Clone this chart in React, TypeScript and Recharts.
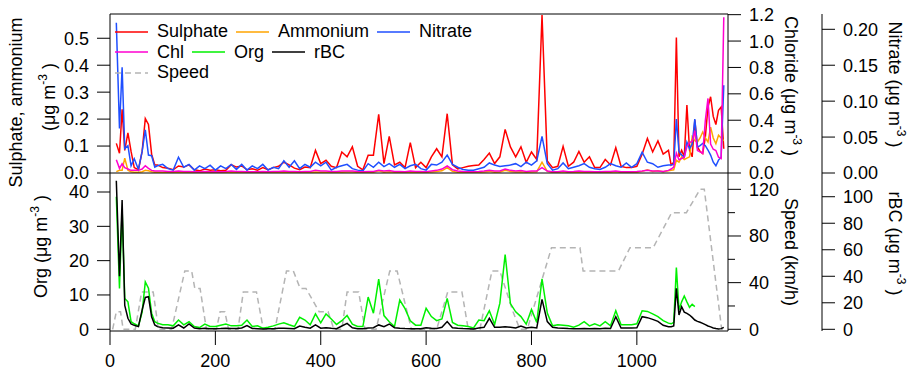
import React from 'react';
import { LineChart, Line, XAxis, YAxis } from 'recharts';

// sample positions (shared by the aerosol series of both panels)
const timeX = [
  12, 18, 23, 28, 34, 40, 46, 54, 61, 67, 73, 79, 85,
  90, 100, 110, 120, 130, 140, 150, 160, 170, 180, 190, 200, 210, 220, 230, 240, 250, 260, 270, 280, 290, 300,
  310, 320, 330, 340, 350, 360, 370, 380,
  390, 400, 410, 420, 430, 440, 450, 460, 470, 480, 490, 500, 510, 520, 530, 540, 550, 560, 570, 580, 590, 600,
  610, 620, 630, 640, 650, 660, 670, 680, 690, 700, 710, 720, 730, 740, 750, 760, 770, 780, 790, 800, 810, 820,
  830, 840, 850, 860, 870, 880, 890, 900, 910, 920, 930, 940, 950, 960, 970, 980, 990, 1000, 1010, 1020, 1030,
  1040, 1050, 1060,
  1065, 1070, 1075, 1080, 1085, 1090, 1095, 1100, 1105, 1110, 1115, 1120, 1125, 1130, 1135, 1140, 1145, 1150,
  1155, 1160, 1165,
];

const sulphate = [
  0.11, 0.073, 0.236, 0.084, 0.149, 0.08, 0.02, 0.012, 0.08, 0.202, 0.18, 0.07, 0.03,
  0.03, 0.02, 0.018, 0.012, 0.026, 0.022, 0.03, 0.012, 0.008, 0.015, 0.01, 0.012, 0.008, 0.01, 0.031, 0.022, 0.026,
  0.012, 0.016, 0.01, 0.02, 0.012, 0.02, 0.025, 0.04, 0.03, 0.018, 0.012, 0.022, 0.02,
  0.084, 0.035, 0.047, 0.025, 0.02, 0.078, 0.06, 0.097, 0.025, 0.012, 0.066, 0.066, 0.218, 0.035, 0.136, 0.03,
  0.04, 0.02, 0.113, 0.02, 0.04, 0.02, 0.06, 0.09, 0.06, 0.22, 0.03, 0.015, 0.02, 0.025, 0.028, 0.03, 0.05, 0.074,
  0.035, 0.06, 0.162, 0.097, 0.06, 0.097, 0.04, 0.078, 0.05, 0.586, 0.045, 0.02, 0.025, 0.099, 0.025, 0.04, 0.08,
  0.04, 0.06, 0.02, 0.02, 0.05, 0.03, 0.094, 0.025, 0.02, 0.02, 0.025, 0.07, 0.128, 0.078, 0.119, 0.07, 0.084,
  0.03, 0.04, 0.503, 0.06, 0.084, 0.06, 0.252, 0.084, 0.06, 0.196, 0.097, 0.08, 0.072, 0.134, 0.245, 0.283, 0.21,
  0.18, 0.233, 0.245, 0.09,
];

const ammonium = [
  0.005, 0.01, 0.01, 0.055, 0.01, 0.005, 0.003, 0.003, 0.005, 0.01, 0.008, 0.005, 0.003,
  0.003, 0.002, 0.002, 0.002, 0.003, 0.002, 0.002, 0.002, 0.001, 0.002, 0.001, 0.001, 0.001, 0.002, 0.002, 0.002,
  0.002, 0.001, 0.001, 0.001, 0.002, 0.001, 0.002, 0.002, 0.003, 0.002, 0.002, 0.001, 0.002, 0.002,
  0.004, 0.003, 0.003, 0.002, 0.002, 0.003, 0.004, 0.004, 0.002, 0.002, 0.003, 0.003, 0.008, 0.003, 0.005, 0.003,
  0.003, 0.002, 0.004, 0.002, 0.003, 0.002, 0.004, 0.006, 0.008, 0.02, 0.006, 0.003, 0.002, 0.002, 0.002, 0.003,
  0.004, 0.006, 0.003, 0.004, 0.01, 0.006, 0.004, 0.005, 0.003, 0.004, 0.005, 0.04, 0.006, 0.002, 0.002, 0.005,
  0.002, 0.003, 0.004, 0.003, 0.004, 0.002, 0.002, 0.003, 0.003, 0.005, 0.002, 0.002, 0.002, 0.003, 0.006, 0.012,
  0.006, 0.008, 0.005, 0.008,
  0.01, 0.012, 0.047, 0.04, 0.06, 0.05, 0.055, 0.06, 0.134, 0.12, 0.115, 0.13, 0.152, 0.13, 0.115, 0.17, 0.13,
  0.109, 0.14, 0.13, 0.12,
];

const nitrate = [
  0.209, 0.062, 0.147, 0.034, 0.038, 0.01, 0.02, 0.005, 0.03, 0.06, 0.025, 0.024, 0.008,
  0.01, 0.012, 0.006, 0.004, 0.022, 0.008, 0.012, 0.004, 0.01, 0.006, 0.011, 0.004, 0.01, 0.006, 0.012, 0.005,
  0.012, 0.004, 0.01, 0.006, 0.012, 0.004, 0.008, 0.006, 0.017, 0.008, 0.017, 0.006, 0.012, 0.008,
  0.015, 0.01, 0.015, 0.004, 0.008, 0.01, 0.012, 0.006, 0.004, 0.003, 0.013, 0.008, 0.015, 0.009, 0.013, 0.008,
  0.012, 0.006, 0.01, 0.012, 0.006, 0.004, 0.012, 0.011, 0.015, 0.025, 0.012, 0.008, 0.005, 0.004, 0.004, 0.006,
  0.008, 0.014, 0.011, 0.009, 0.01, 0.011, 0.013, 0.009, 0.015, 0.011, 0.017, 0.051, 0.013, 0.004, 0.006, 0.014,
  0.006, 0.008, 0.01, 0.013, 0.008, 0.006, 0.005, 0.008, 0.013, 0.01, 0.008, 0.014, 0.008, 0.013, 0.029, 0.015,
  0.013, 0.008, 0.01, 0.011,
  0.011, 0.012, 0.075, 0.03, 0.025, 0.022, 0.043, 0.034, 0.04, 0.075, 0.036, 0.038, 0.041, 0.038, 0.032, 0.025,
  0.015, 0.01, 0.018, 0.022, 0.122,
];

const chloride = [
  0.1, 0.035, 0.07, 0.04, 0.03, 0.02, 0.02, 0.02, 0.03, 0.055, 0.035, 0.02, 0.015,
  0.015, 0.015, 0.012, 0.012, 0.015, 0.012, 0.012, 0.01, 0.01, 0.012, 0.01, 0.01, 0.01, 0.012, 0.015, 0.012,
  0.012, 0.01, 0.01, 0.01, 0.012, 0.01, 0.012, 0.012, 0.015, 0.012, 0.012, 0.01, 0.012, 0.012,
  0.02, 0.015, 0.015, 0.012, 0.012, 0.015, 0.015, 0.015, 0.012, 0.01, 0.012, 0.012, 0.02, 0.015, 0.018, 0.012,
  0.012, 0.01, 0.015, 0.012, 0.012, 0.01, 0.015, 0.02, 0.03, 0.053, 0.025, 0.015, 0.012, 0.01, 0.01, 0.012,
  0.015, 0.02, 0.015, 0.015, 0.03, 0.02, 0.015, 0.018, 0.012, 0.015, 0.015, 0.04, 0.015, 0.01, 0.01, 0.015,
  0.01, 0.012, 0.015, 0.012, 0.012, 0.01, 0.01, 0.012, 0.012, 0.015, 0.01, 0.01, 0.01, 0.012, 0.015, 0.02,
  0.015, 0.015, 0.012, 0.02,
  0.03, 0.045, 0.15, 0.1, 0.11, 0.12, 0.2, 0.23, 0.24, 0.32, 0.17, 0.16, 0.15, 0.4, 0.565, 0.22, 0.18, 0.17,
  0.12, 0.11, 1.18,
];

// organics stop at ~1110
const org = [
  38.6, 11.9, 35, 9, 8, 2.2, 1.6, 1.0, 5, 13.8, 12, 4.7, 2.2,
  1.8, 1.3, 1.3, 1.0, 2.7, 1.3, 2.2, 0.8, 0.5, 1.5, 0.8, 0.8, 1.2, 1.5, 1.0, 1.0, 1.2, 2.7, 0.8, 1.0, 0.3, 0.6,
  1.0, 1.5, 1.9, 1.3, 0.8, 3.5, 2.7, 1.3,
  4.5, 1.9, 4.5, 3.0, 1.4, 2.5, 4.0, 1.5, 0.8, 0.8, 9.4, 4.7, 14.6, 4.0, 2.2, 0.8, 8.5, 6.0, 2.5, 1.2, 1.2, 6.1,
  3.7, 2.5, 3.0, 9.0, 2.0, 1.2, 1.0, 0.8, 0.4, 2.7, 2.5, 5.4, 1.4, 7.6, 21.8, 7.5, 5.1, 3.7, 1.5, 5.8, 2.0, 14.7,
  4.7, 1.0, 1.3, 1.2, 1.0, 0.6, 1.2, 2.2, 1.0, 1.6, 1.0, 2.2, 1.0, 5.4, 1.3, 1.3, 1.3, 1.6, 5.4, 5.2, 4.5, 3.7,
  2.5, 1.8,
  1.6, 2.0, 18, 5.6, 8, 9.7, 8, 6.4, 7.3, 6.6,
];

const rbc = [
  112, 40, 97.5, 18, 8.3, 4, 3, 2, 14.6, 24, 24.6, 9.5, 3.3,
  2, 1.2, 1, 0.8, 3.3, 1, 4, 1, 0.5, 0.8, 0.5, 0.5, 0.6, 0.8, 0.6, 0.6, 1.0, 2.8, 0.6, 0.5, 0.3, 0.4, 0.5, 0.8,
  0.8, 0.6, 0.4, 2.5, 1.5, 0.8,
  3.3, 0.8, 1.2, 0.8, 0.5, 2.5, 4.5, 1.2, 0.5, 0.5, 1.0, 1.2, 3.3, 2.0, 4.0, 1.2, 0.8, 0.6, 0.5, 0.4, 0.4, 1.2,
  0.8, 0.6, 1.5, 5.8, 1.2, 0.8, 0.6, 0.5, 0.3, 1.0, 1.5, 8.3, 1.5, 1.5, 2.0, 1.5, 1.0, 2.5, 1.0, 1.5, 1.0, 22.6,
  5.8, 1.5, 1.0, 0.8, 0.6, 0.5, 0.5, 0.6, 0.5, 0.6, 0.5, 0.8, 0.6, 9.5, 1.0, 1.0, 1.0, 1.2, 9.5, 8.8, 7.5, 6.0,
  3.0, 2.0,
  2.0, 2.5, 31, 10.8, 17, 13, 12, 10.8, 9, 7, 6, 5.3, 4.5, 3.5, 2.5, 1.8, 1.0, 0.6, 0.3, 0.5, 1.5,
];

// vehicle speed, km/h
const speedX = [
  5, 12, 20, 25, 48, 60, 82, 92, 117, 142, 155, 161, 171, 183, 202, 209, 218, 225, 243, 253, 278, 291, 313, 335,
  348, 361, 372, 397, 414, 425, 440, 450, 472, 484, 505, 531, 545, 572, 620, 641, 668, 680, 702, 725, 740, 765,
  778, 792, 838, 892, 898, 965, 987, 1031, 1066, 1094, 1120, 1128, 1161, 1168,
];
const speed = [
  0, 15, 15, 0, 0, 32, 32, 0, 0, 50, 50, 35, 35, 0, 0, 15, 15, 0, 0, 32, 32, 0, 0, 50,
  50, 35, 35, 15, 15, 0, 0, 32, 32, 0, 0, 50, 50, 0, 0, 32, 32, 0, 0, 50, 50, 15,
  0, 0, 70, 70, 50, 50, 70, 70, 100, 100, 120, 120, 0, 0,
];

const xTicks = [0, 200, 400, 600, 800, 1000];
const saTicks = [0, 0.1, 0.2, 0.3, 0.4, 0.5];
const clTicks = [0, 0.2, 0.4, 0.6, 0.8, 1.0, 1.2];
const no3Ticks = [0, 0.05, 0.1, 0.15, 0.2];
const orgTicks = [0, 10, 20, 30, 40];
const speedTicks = [0, 20, 40, 60, 80, 100, 120];
const rbcTicks = [0, 20, 40, 60, 80, 100];

const legendRows = [
  ['Sulphate', 'Ammonium', 'Nitrate'],
  ['Chl', 'Org', 'rBC'],
  ['Speed'],
];

const FONT = '"Liberation Sans", Arial, Helvetica, sans-serif';
const style: Record<string, { color: string; dash?: string }> = {
  Sulphate: { color: '#ff0000' },
  Ammonium: { color: '#ffa500' },
  Nitrate: { color: '#1f4fff' },
  Chl: { color: '#ff00d0' },
  Org: { color: '#00f000' },
  rBC: { color: '#000000' },
  Speed: { color: '#b4b4b4', dash: '6 4' },
};

const topData = timeX.map((x, i) => ({
  x,
  sulphate: sulphate[i],
  ammonium: ammonium[i],
  nitrate: nitrate[i],
  chl: chloride[i],
}));
const bottomData = timeX.map((x, i) => ({
  x,
  org: i < org.length ? org[i] : null,
  rbc: rbc[i],
}));
const speedData = speedX.map((x, i) => ({ x, speed: speed[i] }));

const xDomain = [0, 1173];
const tickFont = { fill: '#000', fontSize: 18 };
const fmt1 = (v: number) => v.toFixed(1);
const fmt2 = (v: number) => v.toFixed(2);
const fmt0 = (v: number) => String(v);

// right-hand axes: label sits tickSize + tickMargin (13 + 8) right of the axis line
const R_SIZE = 13;
const R_MARGIN = 8;
const RightTick = (props: any) => {
  const { x, y, payload, format, minor } = props;
  const isMinor = minor ? minor(payload.value) : false;
  const ax = x - R_SIZE - R_MARGIN;
  const len = isMinor ? 7 : R_SIZE;
  return (
    <g>
      <line x1={ax} x2={ax + len} y1={y} y2={y} stroke="#000" />
      {!isMinor && (
        <text x={x} y={y} dy="0.36em" fontSize={18} fill="#000">
          {format(payload.value)}
        </text>
      )}
    </g>
  );
};

const Unit = () => (
  <>
    <tspan>(μg m</tspan>
    <tspan dy={-8} fontSize={12}>-3</tspan>
    <tspan dy={8}> )</tspan>
  </>
);

const Titles = () => (
  <svg width={915} height={370} style={{ position: 'absolute', left: 0, top: 0, pointerEvents: 'none' }}>
    <g fontSize={18} fill="#000" textAnchor="middle">
      <text transform="translate(22,102.5) rotate(-90)">Sulphate, ammonium</text>
      <text transform="translate(55,97) rotate(-90)"><Unit /></text>
      <text transform="translate(47,246.5) rotate(-90)">Org <Unit /></text>
      <text transform="translate(785,86) rotate(90)">Chloride <Unit /></text>
      <text transform="translate(889,84.5) rotate(90)">Nitrate <Unit /></text>
      <text transform="translate(785,252) rotate(90)">Speed (km/h)</text>
      <text transform="translate(889,243.5) rotate(90)">rBC <Unit /></text>
    </g>
  </svg>
);

const LegendBox = () => (
  <div style={{ position: 'absolute', left: 115, top: 21.5, fontSize: 18, color: '#000' }}>
    {legendRows.map((row, r) => (
      <div key={r} style={{ display: 'flex', alignItems: 'center', height: 20.5, whiteSpace: 'nowrap' }}>
        {row.map((name) => (
          <div key={name} style={{ display: 'flex', alignItems: 'center', marginRight: 8 }}>
            <svg width={33} height={4} style={{ display: 'block' }}>
              <line x1={0} x2={33} y1={2} y2={2} stroke={style[name].color} strokeWidth={1.5}
                strokeDasharray={style[name].dash} />
            </svg>
            <span style={{ marginLeft: 9 }}>{name}</span>
          </div>
        ))}
      </div>
    ))}
  </div>
);

const line = (key: string, name: string, yAxisId: string) => (
  <Line
    key={key}
    type="linear"
    dataKey={key}
    yAxisId={yAxisId}
    stroke={style[name].color}
    strokeWidth={1.5}
    dot={false}
    isAnimationActive={false}
  />
);

export default function App() {
  return (
    <div style={{ position: 'absolute', left: 0, top: 0, width: 915, height: 370, background: '#fff', fontFamily: FONT }}>
      <div style={{ position: 'absolute', left: 0, top: 0 }}>
        <LineChart width={915} height={190} data={topData} margin={{ top: 13, right: 33, bottom: 16, left: 50 }}>
          <XAxis type="number" dataKey="x" domain={xDomain} allowDataOverflow tick={false} tickLine={false}
            height={1} axisLine={{ stroke: '#000' }} />
          <XAxis xAxisId="top" orientation="top" type="number" dataKey="x" domain={xDomain} allowDataOverflow
            tick={false} tickLine={false} height={1} axisLine={{ stroke: '#000' }} />
          <YAxis yAxisId="l_sa" orientation="left" width={60} domain={[0, 0.59]} allowDataOverflow ticks={saTicks}
            interval={0} tickFormatter={fmt1} tick={tickFont} tickSize={13} tickMargin={8}
            axisLine={{ stroke: '#000' }} tickLine={{ stroke: '#000' }} />
          <YAxis yAxisId="r1_cl" orientation="right" width={94} domain={[0, 1.205]} allowDataOverflow ticks={clTicks}
            interval={0} tickSize={R_SIZE} tickMargin={R_MARGIN} tickLine={false} axisLine={{ stroke: '#000' }}
            tick={(p: any) => <RightTick {...p} format={fmt1} />} />
          <YAxis yAxisId="r2_no3" orientation="right" width={60} domain={[0, 0.2213]} allowDataOverflow
            ticks={no3Ticks} interval={0} tickSize={R_SIZE} tickMargin={R_MARGIN} tickLine={false}
            axisLine={{ stroke: '#000' }} tick={(p: any) => <RightTick {...p} format={fmt2} />} />
          {line('sulphate', 'Sulphate', 'l_sa')}
          {line('ammonium', 'Ammonium', 'l_sa')}
          {line('nitrate', 'Nitrate', 'r2_no3')}
          {line('chl', 'Chl', 'r1_cl')}
        </LineChart>
      </div>
      <div style={{ position: 'absolute', left: 0, top: 173 }}>
        <LineChart width={915} height={197} data={bottomData} margin={{ top: 0, right: 33, bottom: 0, left: 50 }}>
          <XAxis type="number" dataKey="x" domain={xDomain} allowDataOverflow ticks={xTicks} interval={0}
            tick={tickFont} tickSize={14} tickMargin={9} height={39}
            axisLine={{ stroke: '#000' }} tickLine={{ stroke: '#000' }} />
          <YAxis yAxisId="l_org" orientation="left" width={60} domain={[-0.5, 45.54]} allowDataOverflow
            ticks={orgTicks} interval={0} tick={tickFont} tickSize={13} tickMargin={8}
            axisLine={{ stroke: '#000' }} tickLine={{ stroke: '#000' }} />
          <YAxis yAxisId="r1_speed" orientation="right" width={94} domain={[-1.46, 134]} allowDataOverflow
            ticks={speedTicks} interval={0} tickSize={R_SIZE} tickMargin={R_MARGIN} tickLine={false}
            axisLine={{ stroke: '#000' }}
            tick={(p: any) => <RightTick {...p} format={fmt0} minor={(v: number) => v % 40 !== 0} />} />
          <YAxis yAxisId="r2_rbc" orientation="right" width={60} domain={[-1.28, 117.9]} allowDataOverflow
            ticks={rbcTicks} interval={0} tickSize={R_SIZE} tickMargin={R_MARGIN} tickLine={false}
            axisLine={{ stroke: '#000' }} tick={(p: any) => <RightTick {...p} format={fmt0} />} />
          <Line
            data={speedData}
            type="linear"
            dataKey="speed"
            yAxisId="r1_speed"
            stroke={style.Speed.color}
            strokeWidth={1.5}
            strokeDasharray={style.Speed.dash}
            dot={false}
            isAnimationActive={false}
          />
          {line('org', 'Org', 'l_org')}
          {line('rbc', 'rBC', 'r2_rbc')}
        </LineChart>
      </div>
      <LegendBox />
      <Titles />
    </div>
  );
}
